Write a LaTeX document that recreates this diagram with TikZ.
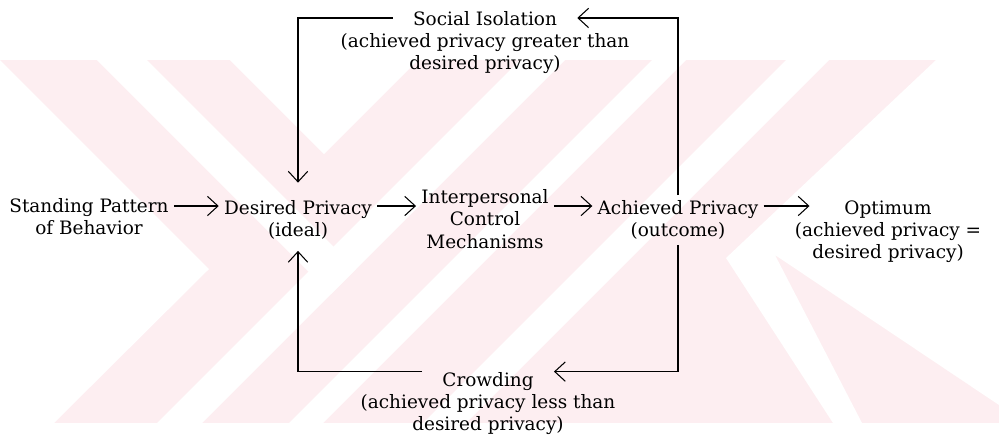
\documentclass[tikz,border=0pt]{standalone}
\usepackage{fontspec}
\setmainfont{DejaVu Serif}
\usetikzlibrary{arrows.meta,positioning}
\definecolor{wmpink}{RGB}{253,238,241}

\begin{document}
\begin{tikzpicture}[
            x=0.02cm, y=-0.02cm,
            node distance=0.16cm,
            block/.style={align=center, inner sep=0.1cm, font=\fontsize{10.5}{12.6}\selectfont},
            heading/.style={block, inner xsep=0.4cm, inner ysep=0pt, text height=8pt, text depth=0pt},
            note/.style={block, inner sep=0pt},
            arrow/.style={-{Straight Barb[length=6pt,width=11pt]}, line width=0.6pt}
        ]
            \useasboundingbox (0,0) rectangle (999,437);

            % faint watermark behind the diagram
            \begin{scope}
                \clip (0,60) rectangle (999,423);
                \fill[wmpink] (0,60) rectangle (999,423);
                \fill[white] (0,60) -- (209,269) -- (54,423) -- (0,423) -- cycle;
                \fill[white] (230,60) -- (324,154) -- (418,60) -- cycle;
                \fill[white] (97,60) -- (147,60) -- (356,269) -- (331,294) -- cycle;
                \fill[white] (520,60) -- (565,60) -- (202,423) -- (157,423) -- cycle;
                \fill[white] (652,60) -- (686,60) -- (323,423) -- (289,423) -- cycle;
                \fill[white] (786,60) -- (829,60) -- (466,423) -- (423,423) -- cycle;
                \fill[white] (936,60) -- (999,60) -- (999,405) -- (775,255) -- (862,423) -- (833,423) -- (726,258) -- cycle;
            \end{scope}

            \coordinate (row) at (0,206);
            \node[block] (standing) at (89,217) {Standing Pattern\\of Behavior};
            \node[block] (desired) at (298,220) {Desired Privacy\\(ideal)};
            \node[block] (interpersonal) at (485,219) {Interpersonal\\Control\\Mechanisms};
            \node[block] (achieved) at (678,220) {Achieved Privacy\\(outcome)};
            \node[block] (optimum) at (888,232) {Optimum\\(achieved privacy =\\desired privacy)};

            \node[heading, anchor=base] (social) at (485,25) {Social Isolation};
            \node[note, below=of social] (socialnote) {(achieved privacy greater than\\desired privacy)};
            \node[heading, anchor=base] (crowding) at (488,386) {Crowding};
            \node[note, below=of crowding] (crowdingnote) {(achieved privacy less than\\desired privacy)};

            \draw[arrow] (standing.east |- row) -- (desired.west |- row);
            \draw[arrow] (desired.east |- row) -- (interpersonal.west |- row);
            \draw[arrow] (interpersonal.east |- row) -- (achieved.west |- row);
            \draw[arrow, shorten >=-0.4cm] (achieved.east |- row) -- (optimum.west |- row);

            \draw[arrow] (achieved.north) |- (social.east);
            \draw[arrow, shorten >=0.25cm] (social.west) -| (desired.north);
            \draw[arrow] (achieved.south) |- (crowding.north east);
            \draw[arrow, shorten >=0.12cm] (crowding.north west) -| (desired.south);
        \end{tikzpicture}
\end{document}
